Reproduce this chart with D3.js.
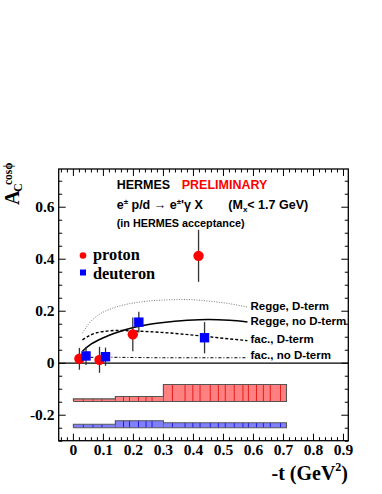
<!DOCTYPE html>
<html lang="en">
<head>
    <meta charset="UTF-8">
    <title>HERMES beam-charge asymmetry</title>
    <script src="https://d3js.org/d3.v7.min.js"></script>
    <style>
        body { margin: 0; background: #fff; }
        .tick-label { font-family: "Liberation Serif", serif; font-weight: bold; font-size: 15.5px; }
        .sans { font-family: "Liberation Sans", Arial, sans-serif; font-weight: bold; }
        .serif { font-family: "Liberation Serif", serif; font-weight: bold; }
    </style>
</head>
<body>
<div id="chart"></div>
<script>
// measured points: [-t, A_C^cos(phi), stat error]
const proton   = [[0.02, 0.017, 0.042], [0.087, 0.013, 0.05], [0.198, 0.111, 0.065], [0.417, 0.413, 0.1]];
const deuteron = [[0.042, 0.028, 0.035], [0.107, 0.025, 0.035], [0.218, 0.158, 0.04], [0.437, 0.098, 0.06]];

// model curves
const reggeD   = [[0.03,0.115],[0.05,0.15],[0.08,0.183],[0.12,0.207],[0.16,0.222],[0.22,0.235],[0.3,0.243],[0.38,0.245],[0.45,0.239],[0.52,0.229],[0.58,0.216]];
const reggeNoD = [[0.03,0.046],[0.06,0.074],[0.1,0.098],[0.15,0.12],[0.2,0.137],[0.25,0.149],[0.3,0.157],[0.38,0.165],[0.45,0.168],[0.52,0.165],[0.58,0.159]];
const facD     = [[0.03,0.09],[0.06,0.11],[0.1,0.122],[0.15,0.126],[0.2,0.124],[0.3,0.118],[0.4,0.108],[0.5,0.096],[0.58,0.087]];
const facNoD   = [[0.03,0.022],[0.1,0.023],[0.2,0.022],[0.3,0.021],[0.4,0.021],[0.5,0.021],[0.58,0.021]];
const curveLabels = ["Regge, D-term", "Regge, no D-term", "fac., D-term", "fac., no D-term"];

// systematic bands: [x0, x1, bottom, top]
const sysProton   = [[0, 0.14, -0.147, -0.137], [0.14, 0.3, -0.147, -0.128], [0.3, 0.71, -0.147, -0.082]];
const sysDeuteron = [[0, 0.14, -0.248, -0.235], [0.14, 0.3, -0.248, -0.221], [0.3, 0.71, -0.248, -0.229]];
const sysLines = [0.033, 0.065, 0.095, 0.167, 0.187, 0.217, 0.242, 0.262, 0.33, 0.372, 0.398, 0.422, 0.456, 0.483, 0.506, 0.536, 0.565, 0.583, 0.61, 0.633, 0.656, 0.69];

const xTicks = [0, 0.1, 0.2, 0.3, 0.4, 0.5, 0.6, 0.7, 0.8, 0.9];
const yTicks = [-0.2, 0, 0.2, 0.4, 0.6];

const W = 382, H = 494;
const frame = {left: 58.7, right: 348.3, top: 169, bottom: 440.7};

const svg = d3.select("#chart").append("svg")
    .attr("width", W).attr("height", H)
    .style("background", "#fff");

const x = d3.scaleLinear().domain([-0.049, 0.916]).range([frame.left, frame.right]);
const y = d3.scaleLinear().domain([-0.298, 0.747]).range([frame.bottom, frame.top]);

// minor ticks
const xMinor = d3.range(-0.04, 0.92, 0.02);
const yMinor = d3.range(-0.3, 0.75, 0.05);

const axes = svg.append("g").attr("stroke", "#000").attr("stroke-width", 1);
function tickLen(v, list, major, minor) { return list.some(t => Math.abs(t - v) < 1e-6) ? major : minor; }
xMinor.forEach(v => {
    const len = tickLen(v, xTicks, 7, 3.5);
    axes.append("line").attr("x1", x(v)).attr("x2", x(v)).attr("y1", frame.bottom).attr("y2", frame.bottom - len);
    axes.append("line").attr("x1", x(v)).attr("x2", x(v)).attr("y1", frame.top).attr("y2", frame.top + len);
});
yMinor.forEach(v => {
    const len = tickLen(v, yTicks, 7, 3.5);
    axes.append("line").attr("y1", y(v)).attr("y2", y(v)).attr("x1", frame.left).attr("x2", frame.left + len);
    axes.append("line").attr("y1", y(v)).attr("y2", y(v)).attr("x1", frame.right).attr("x2", frame.right - len);
});

// tick labels
svg.append("g").selectAll("text").data(xTicks).join("text")
    .attr("class", "tick-label")
    .attr("x", d => x(d)).attr("y", 455)
    .attr("text-anchor", "middle")
    .text(d => d3.format(".1~f")(d));
svg.append("g").selectAll("text").data(yTicks).join("text")
    .attr("class", "tick-label")
    .attr("x", 54.5).attr("y", d => y(d) + 5)
    .attr("text-anchor", "end")
    .text(d => d === 0 ? "0" : d3.format(".1f")(d).replace("\u2212", "-"));

// zero line
svg.append("line")
    .attr("x1", frame.left).attr("x2", frame.right)
    .attr("y1", y(0)).attr("y2", y(0))
    .attr("stroke", "#000").attr("stroke-width", 1.2);

// systematic bands
function drawBand(bins, fill, lineColor) {
    const g = svg.append("g");
    bins.forEach(b => {
        g.append("rect")
            .attr("x", x(b[0])).attr("width", x(b[1]) - x(b[0]))
            .attr("y", y(b[3])).attr("height", y(b[2]) - y(b[3]))
            .attr("fill", fill);
        sysLines.filter(v => v > b[0] && v < b[1]).forEach(v => {
            g.append("line").attr("x1", x(v)).attr("x2", x(v))
                .attr("y1", y(b[3])).attr("y2", y(b[2]))
                .attr("stroke", lineColor).attr("stroke-width", 0.8);
        });
    });
    // outline as a step path
    const pts = [[bins[0][0], bins[0][2]], [bins[0][0], bins[0][3]]];
    bins.forEach((b, i) => {
        pts.push([b[1], b[3]]);
        if (i < bins.length - 1) pts.push([b[1], bins[i + 1][3]]);
    });
    pts.push([bins[bins.length - 1][1], bins[bins.length - 1][2]]);
    pts.push([bins[0][0], bins[0][2]]);
    g.append("path")
        .attr("d", d3.line().x(d => x(d[0])).y(d => y(d[1]))(pts))
        .attr("fill", "none").attr("stroke", "#555").attr("stroke-width", 1.1);
    bins.slice(1).forEach(b => {
        g.append("line").attr("x1", x(b[0])).attr("x2", x(b[0]))
            .attr("y1", y(b[3])).attr("y2", y(b[2]))
            .attr("stroke", "#555").attr("stroke-width", 0.8);
    });
}
drawBand(sysProton, "#ff8080", "#e00000");
drawBand(sysDeuteron, "#8080ff", "#0000e0");

// model curves
const line = d3.line().x(d => x(d[0])).y(d => y(d[1])).curve(d3.curveMonotoneX);
const curveStyles = [
    {data: reggeD, stroke: "#777", width: 1, dash: "1,1.5", dy: 2.6},
    {data: reggeNoD, stroke: "#000", width: 1.5, dash: null, dy: 2.7},
    {data: facD, stroke: "#000", width: 1.4, dash: "3,2", dy: 2.3},
    {data: facNoD, stroke: "#000", width: 1, dash: "3,2,1,2", dy: 0.8}
];
curveStyles.forEach((c, i) => {
    svg.append("path").datum(c.data)
        .attr("d", line)
        .attr("fill", "none")
        .attr("stroke", c.stroke)
        .attr("stroke-width", c.width)
        .attr("stroke-dasharray", c.dash);
    const last = c.data[c.data.length - 1];
    svg.append("text").attr("class", "sans")
        .attr("x", x(last[0]) + 3).attr("y", y(last[1]) + c.dy)
        .attr("font-size", "11.5px")
        .text(curveLabels[i]);
});

// error bars and markers
function errBars(data) {
    svg.append("g").selectAll("line").data(data).join("line")
        .attr("x1", d => x(d[0])).attr("x2", d => x(d[0]))
        .attr("y1", d => y(d[1] - d[2])).attr("y2", d => y(d[1] + d[2]))
        .attr("stroke", "#333").attr("stroke-width", 1.3);
}
errBars(proton);
errBars(deuteron);
svg.append("g").selectAll("circle").data(proton).join("circle")
    .attr("cx", d => x(d[0])).attr("cy", d => y(d[1])).attr("r", 5.2)
    .attr("fill", "#ff0000");
svg.append("g").selectAll("rect").data(deuteron).join("rect")
    .attr("x", d => x(d[0]) - 4.7).attr("y", d => y(d[1]) - 4.7)
    .attr("width", 9.4).attr("height", 9.4)
    .attr("fill", "#0000ff");

// frame
svg.append("rect")
    .attr("x", frame.left).attr("y", frame.top)
    .attr("width", frame.right - frame.left).attr("height", frame.bottom - frame.top)
    .attr("fill", "none").attr("stroke", "#000").attr("stroke-width", 1.3);

// header
const h1 = svg.append("text").attr("class", "sans").attr("font-size", "12.5px").attr("x", 116.7).attr("y", 188.5);
h1.append("tspan").text("HERMES");
h1.append("tspan").attr("x", 181.7).attr("fill", "#ff0000").text("PRELIMINARY");

const h2 = svg.append("text").attr("class", "sans").attr("font-size", "12.5px").attr("x", 116.7).attr("y", 209);
h2.append("tspan").text("e");
h2.append("tspan").attr("font-size", "8px").attr("dy", -5).text("\u00b1");
h2.append("tspan").attr("dy", 5).text(" p/d \u2192 e");
h2.append("tspan").attr("font-size", "8px").attr("dy", -5).text("\u00b1");
h2.append("tspan").attr("dy", 5).text("'\u03b3 X");
h2.append("tspan").attr("x", 228.3).text("(M");
h2.append("tspan").attr("font-size", "8px").attr("dy", 3).text("x");
h2.append("tspan").attr("dy", -3).text("< 1.7 GeV)");

svg.append("text").attr("class", "sans").attr("font-size", "10.8px")
    .attr("x", 116.7).attr("y", 226.5).text("(in HERMES acceptance)");

// legend
svg.append("circle").attr("cx", 83).attr("cy", 255.5).attr("r", 3.3).attr("fill", "#ff0000");
svg.append("rect").attr("x", 80).attr("y", 269.5).attr("width", 6).attr("height", 6).attr("fill", "#0000ff");
svg.append("text").attr("class", "serif").attr("font-size", "16.3px").attr("x", 93).attr("y", 260).text("proton");
svg.append("text").attr("class", "serif").attr("font-size", "16.3px").attr("x", 93).attr("y", 278.5).text("deuteron");

// axis titles
const xt = svg.append("text").attr("class", "serif").attr("font-size", "20px")
    .attr("x", 348).attr("y", 480).attr("text-anchor", "end");
xt.append("tspan").text("-t (GeV");
xt.append("tspan").attr("font-size", "12px").attr("dy", -9).text("2");
xt.append("tspan").attr("dy", 9).text(")");

const yt = svg.append("g").attr("transform", "translate(19,205) rotate(-90)");
yt.append("text").attr("class", "serif").attr("font-size", "20px").attr("x", 0).attr("y", 0).text("A");
yt.append("text").attr("class", "serif").attr("font-size", "12px").attr("x", 13).attr("y", 2.5).text("C");
yt.append("text").attr("class", "serif").attr("font-size", "11.5px").attr("x", 20).attr("y", -7.5).text("cos\u03d5");
</script>
</body>
</html>
